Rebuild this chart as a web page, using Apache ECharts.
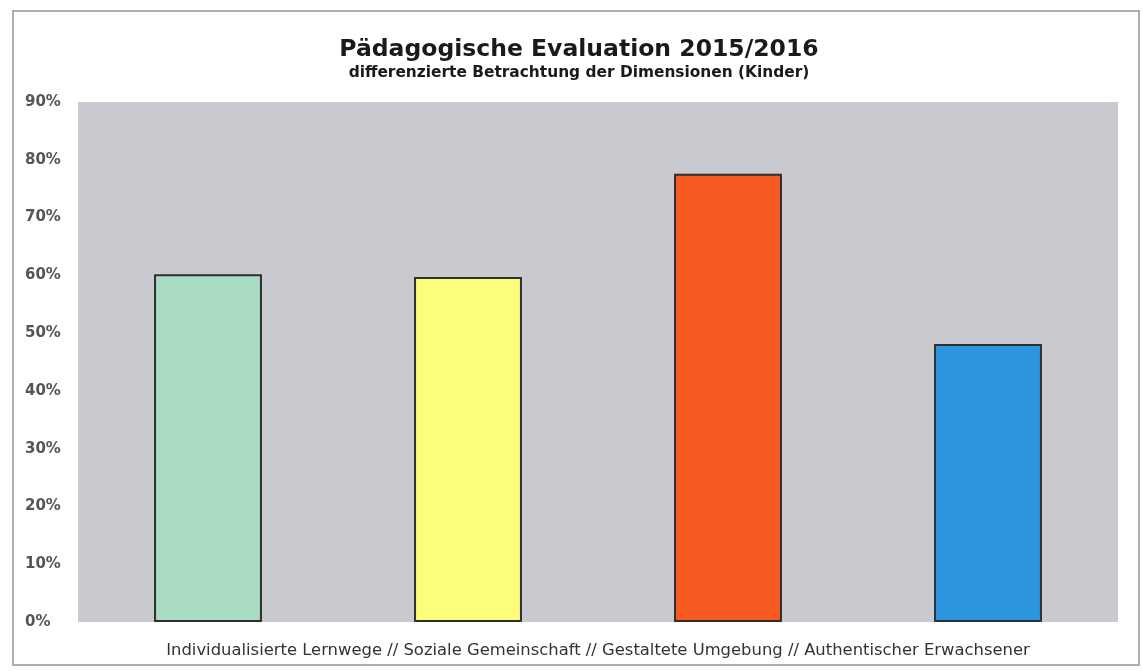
<!DOCTYPE html>
<html>
<head>
<meta charset="utf-8">
<script src="https://cdn.jsdelivr.net/npm/echarts@6/dist/echarts.min.js"></script>
<style>
  html, body { margin: 0; padding: 0; background: #fff; }
  #chart { width: 1142px; height: 671px; }
</style>
</head>
<body>
<div id="chart"></div>
<script>
// Dimensionen und Werte (Anteil, 0..1)
var dimensionen = ['Individualisierte Lernwege', 'Soziale Gemeinschaft', 'Gestaltete Umgebung', 'Authentischer Erwachsener'];
var werte = [0.602, 0.597, 0.776, 0.481];
var farben = ['#a9dcc2', '#fdfd7c', '#f85b22', '#2c95df'];

const getOption = () => {
  return {
    backgroundColor: '#fff',
    title: {
      text: 'Pädagogische Evaluation 2015/2016',
      subtext: 'differenzierte Betrachtung der Dimensionen (Kinder)',
      left: 574,
      textAlign: 'center',
      top: 33,
      itemGap: 3,
      textStyle: { fontFamily: 'DejaVu Sans', fontSize: 23.5, fontWeight: 'bold', color: '#1a1a1a' },
      subtextStyle: { fontFamily: 'DejaVu Sans', fontSize: 15.4, fontWeight: 'bold', color: '#1a1a1a' }
    },
    graphic: [{
      type: 'rect',
      shape: { x: 13, y: 11, width: 1126, height: 654 },
      style: { fill: 'none', stroke: '#b0b0b0', lineWidth: 2 },
      silent: true
    }],
    grid: {
      left: 78, right: 24, top: 102, bottom: 49,
      show: true, backgroundColor: '#c9cacf', borderWidth: 0
    },
    xAxis: {
      type: 'category',
      data: dimensionen,
      axisLine: { show: false },
      axisTick: { show: false },
      axisLabel: { show: false },
      name: dimensionen.join(' // '),
      nameLocation: 'middle',
      nameGap: 21,
      nameTextStyle: { fontFamily: 'DejaVu Sans', fontSize: 16.4, color: '#333' }
    },
    yAxis: {
      type: 'value',
      min: 0, max: 0.9, interval: 0.1,
      splitLine: { show: false },
      axisLine: { show: false },
      axisTick: { show: false },
      axisLabel: {
        margin: 53,
        align: 'left',
        fontFamily: 'DejaVu Sans', fontSize: 15, fontWeight: 'bold', color: '#555',
        formatter: v => Math.round(v * 100) + '%'
      }
    },
    series: [{
      type: 'bar',
      barWidth: '41.5%',
      data: werte.map((v, i) => ({
        value: v,
        itemStyle: { color: farben[i], borderColor: '#2f2f2f', borderWidth: 2 }
      }))
    }]
  };
};

const chart = echarts.init(document.getElementById('chart'));
chart.setOption(getOption());
</script>
</body>
</html>
